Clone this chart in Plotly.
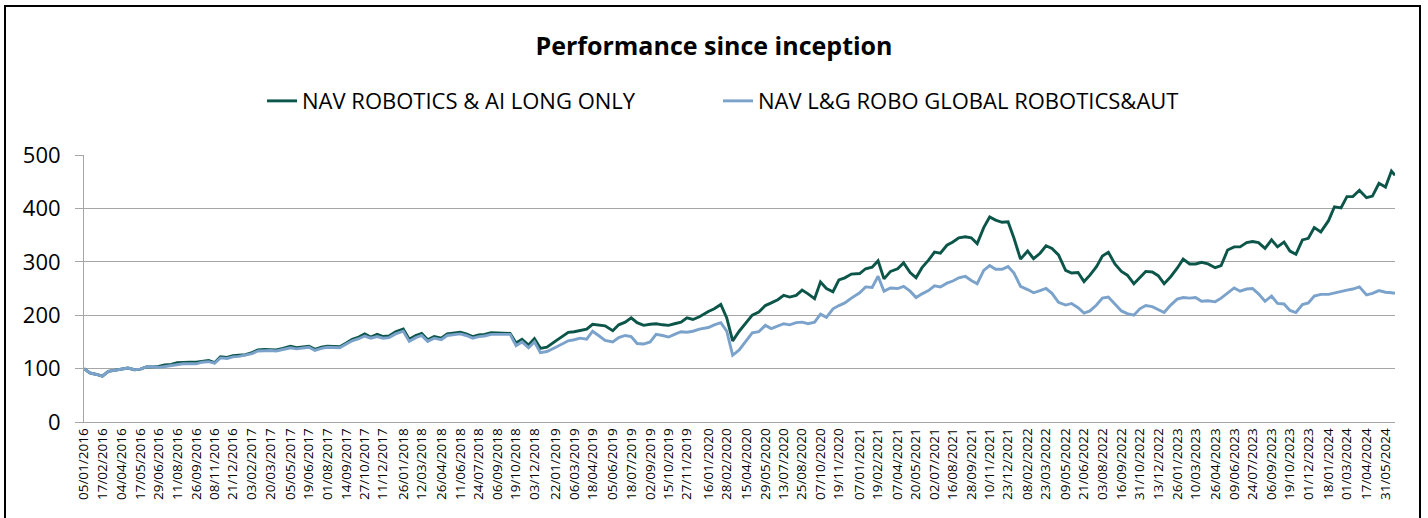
import plotly.graph_objects as go
import pandas as pd

# ---------------- data ----------------
tick_labels = [
    "05/01/2016", "17/02/2016", "04/04/2016", "17/05/2016", "29/06/2016", "11/08/2016",
    "26/09/2016", "08/11/2016", "21/12/2016", "03/02/2017", "20/03/2017", "05/05/2017",
    "19/06/2017", "01/08/2017", "14/09/2017", "27/10/2017", "11/12/2017", "26/01/2018",
    "12/03/2018", "26/04/2018", "11/06/2018", "24/07/2018", "06/09/2018", "19/10/2018",
    "03/12/2018", "22/01/2019", "06/03/2019", "18/04/2019", "05/06/2019", "18/07/2019",
    "02/09/2019", "15/10/2019", "27/11/2019", "16/01/2020", "28/02/2020", "15/04/2020",
    "29/05/2020", "13/07/2020", "25/08/2020", "07/10/2020", "19/11/2020", "07/01/2021",
    "19/02/2021", "07/04/2021", "20/05/2021", "02/07/2021", "16/08/2021", "28/09/2021",
    "10/11/2021", "23/12/2021", "08/02/2022", "23/03/2022", "09/05/2022", "21/06/2022",
    "03/08/2022", "16/09/2022", "31/10/2022", "13/12/2022", "26/01/2023", "10/03/2023",
    "26/04/2023", "09/06/2023", "24/07/2023", "06/09/2023", "19/10/2023", "01/12/2023",
    "18/01/2024", "01/03/2024", "17/04/2024", "31/05/2024",
]
last_date = "24/06/2024"

series_names = ["NAV ROBOTICS & AI LONG ONLY", "NAV L&G ROBO GLOBAL ROBOTICS&AUT"]

# values read at each tick date, +10 and +21 business days (last block ends on last_date)
robotics_ai = [
    100, 92, 89, 86, 95, 97, 98, 101, 98, 99, 103, 104, 104, 107, 108,
    111, 112, 112, 112, 114, 115, 111, 122, 121, 124, 125, 126, 130, 135, 136,
    136, 135, 138, 142, 139, 141, 142, 136, 140, 142, 142, 141, 148, 155, 159,
    165, 159, 164, 160, 161, 169, 174, 155, 162, 166, 154, 160, 157, 165, 167,
    168, 165, 160, 163, 164, 167, 167, 166, 166, 148, 155, 144, 156, 138, 140,
    152, 160, 168, 169, 172, 174, 183, 182, 180, 171, 182, 187, 195, 186, 181,
    183, 184, 182, 181, 184, 187, 195, 192, 197, 207, 212, 220, 195, 152, 170,
    187, 200, 206, 218, 223, 229, 237, 234, 237, 247, 240, 231, 262, 250, 244,
    266, 270, 277, 278, 287, 290, 302, 268, 282, 287, 298, 280, 270, 289, 303,
    318, 316, 331, 337, 345, 347, 345, 334, 364, 384, 378, 374, 375, 344, 305,
    320, 306, 316, 330, 325, 313, 284, 279, 280, 263, 275, 291, 311, 318, 296,
    282, 275, 259, 271, 282, 281, 274, 259, 272, 288, 305, 296, 296, 299, 296,
    289, 293, 322, 328, 328, 336, 338, 336, 325, 341, 328, 337, 320, 314, 341,
    344, 364, 356, 377, 403, 401, 422, 422, 434, 420, 423, 447, 440, 470, 462,
]
lg_robo_global = [
    100, 92, 89, 86, 95, 97, 98, 101, 98, 99, 103, 104, 102, 104, 106,
    108, 109, 109, 109, 112, 113, 110, 120, 119, 122, 123, 125, 128, 133, 134,
    134, 133, 136, 139, 137, 139, 140, 134, 138, 140, 140, 139, 146, 152, 156,
    161, 157, 160, 157, 158, 165, 170, 151, 158, 162, 151, 157, 154, 162, 164,
    165, 162, 157, 160, 161, 164, 164, 163, 164, 143, 150, 139, 150, 130, 132,
    140, 146, 152, 154, 157, 155, 170, 162, 153, 150, 158, 162, 160, 147, 146,
    150, 164, 162, 159, 164, 169, 168, 170, 174, 177, 182, 186, 170, 125, 135,
    153, 167, 169, 181, 175, 179, 184, 182, 186, 187, 184, 187, 202, 196, 212,
    218, 223, 232, 242, 253, 252, 273, 245, 251, 250, 254, 245, 233, 240, 246,
    255, 253, 260, 264, 270, 273, 265, 259, 284, 293, 286, 286, 291, 279, 254,
    248, 242, 246, 250, 241, 224, 219, 222, 214, 204, 208, 219, 232, 234, 221,
    208, 203, 200, 212, 218, 216, 210, 205, 219, 230, 233, 232, 233, 226, 227,
    225, 232, 242, 251, 245, 249, 250, 240, 226, 236, 222, 221, 209, 205, 220,
    223, 236, 239, 239, 242, 244, 247, 249, 253, 238, 241, 246, 243, 242, 241,
]
y_ticks = [0, 100, 200, 300, 400, 500]

# ---------------- dates of the samples ----------------
tick_dates = pd.to_datetime(tick_labels, format="%d/%m/%Y")
end_ts = pd.to_datetime(last_date, format="%d/%m/%Y")
sample_dates = []
for d in tick_dates[:-1]:
    sample_dates += [d, d + pd.offsets.BDay(10), d + pd.offsets.BDay(21)]
sample_dates += [tick_dates[-1], tick_dates[-1] + pd.offsets.BDay(10), end_ts]

DARK = "#0c5549"
LIGHT = "#7ba2cb"
GRID = "#a6a6a6"
FONT = "Open Sans"

fig = go.Figure()
fig.add_trace(go.Scatter(x=sample_dates, y=robotics_ai, mode="lines", name=series_names[0],
                         line=dict(color=DARK, width=2.9), legend="legend"))
fig.add_trace(go.Scatter(x=sample_dates, y=lg_robo_global, mode="lines", name=series_names[1],
                         line=dict(color=LIGHT, width=2.9), legend="legend2"))

legend_common = dict(orientation="h", xanchor="left", y=1.202, yanchor="middle",
                     font=dict(size=22, family=FONT, color="#000000"),
                     bgcolor="rgba(0,0,0,0)")

fig.update_layout(
    width=1428, height=518,
    margin=dict(l=84, r=33, t=155, b=96),
    paper_bgcolor="white", plot_bgcolor="white",
    font=dict(family=FONT, color="#000000"),
    title=dict(text="<b>Performance since inception</b>", x=0.5, xref="container", xanchor="center",
               y=1 - 46 / 518, yref="container", yanchor="middle",
               font=dict(size=25, family=FONT, color="#000000")),
    legend=dict(x=0.1358, **legend_common),
    legend2=dict(x=0.4836, **legend_common),
    showlegend=True,
)

fig.update_xaxes(
    type="date",
    range=[tick_dates[0], end_ts],
    rangebreaks=[dict(bounds=["sat", "mon"])],
    tickmode="array", tickvals=tick_dates, ticktext=tick_labels,
    tickangle=-90, tickfont=dict(size=13.5, family=FONT, color="#000000"),
    showgrid=False, showline=True, linecolor=GRID, linewidth=1, ticks="",
    zeroline=False,
)
fig.update_yaxes(
    range=[0, 500], tickmode="array", tickvals=y_ticks,
    showgrid=True, gridcolor=GRID, gridwidth=1,
    showline=True, linecolor=GRID, linewidth=1,
    ticks="outside", ticklen=8, tickcolor=GRID, tickwidth=1,
    tickfont=dict(size=22, family=FONT, color="#000000"),
    ticklabelstandoff=10, zeroline=False,
)

# chart-area border
fig.add_shape(type="rect", xref="paper", yref="paper",
              x0=(5 - 84) / 1311, x1=(1420 - 84) / 1311,
              y0=-0.6, y1=(422 - 6) / 267,
              line=dict(color="#000000", width=2), fillcolor="rgba(0,0,0,0)", layer="below")

fig.write_html("out.html", config={"displayModeBar": False},
               post_script="document.body.style.margin='0';")
